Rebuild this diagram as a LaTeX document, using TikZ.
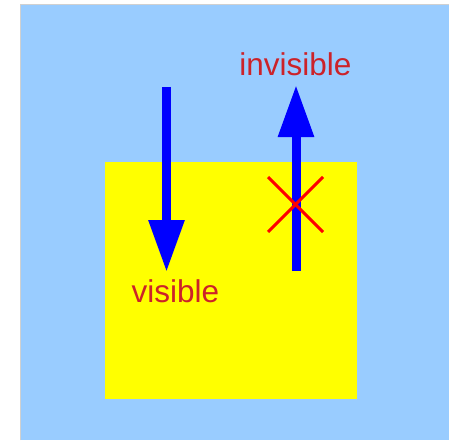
\documentclass[tikz,border=0pt]{standalone}
\usepackage{fontspec}
\setmainfont{Liberation Sans}
\usetikzlibrary{arrows.meta}
\definecolor{bgblue}{HTML}{99CCFF}
\definecolor{bordergrey}{HTML}{D0D0D0}
\definecolor{labelred}{HTML}{CC2229}
\definecolor{pureyellow}{HTML}{FFFF00}
\definecolor{pureblue}{HTML}{0000FF}
\definecolor{purered}{HTML}{FF0000}
\begin{document}
\begin{tikzpicture}[x=1pt,y=1pt,
  bigarrow/.style={draw=pureblue, line width=9pt, -{Triangle[length=52pt,width=34pt]}},
  cross/.style={draw=purered, line width=3pt},
  lbl/.style={text=labelred, font=\fontsize{31.5}{37}\selectfont, inner sep=0pt, anchor=base}]
\useasboundingbox (0,0) rectangle (449,440);
\fill[bgblue] (20,0) rectangle (449,435);
\draw[bordergrey, line width=1pt] (20,0) -- (20,435) -- (449,435);
\fill[pureyellow] (105,41) rectangle (357,278);
\coordinate (d1) at (166.5,353);
\coordinate (d2) at (166.5,168);
\draw[bigarrow] (d1) -- (d2);
\coordinate (u1) at (296,169);
\coordinate (u2) at (296,355);
\draw[bigarrow] (u1) -- (u2);
\coordinate (x1) at (268,263);
\coordinate (x2) at (323,208);
\coordinate (x3) at (268,208);
\coordinate (x4) at (323,263);
\draw[cross] (x1) -- (x2);
\draw[cross] (x3) -- (x4);
\node[lbl] (vis) at (175.5,138) {visible};
\node[lbl] (invis) at (295.5,364) {invisible};
\end{tikzpicture}
\end{document}
